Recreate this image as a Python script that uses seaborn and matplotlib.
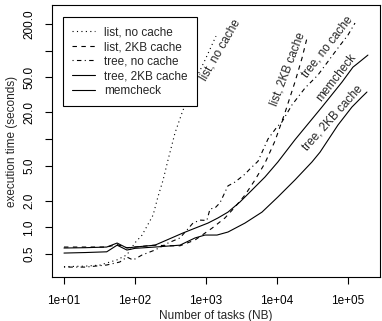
import matplotlib
matplotlib.use("Agg")
import matplotlib.pyplot as plt
from matplotlib.ticker import NullLocator
import pandas as pd
import seaborn as sns

series_names = ["list, no cache", "list, 2KB cache", "tree, no cache",
                "tree, 2KB cache", "memcheck"]

list_nocache_n = [10, 20, 32, 56, 77, 100, 126, 180, 210, 248, 292, 366, 459, 635, 968, 1384]
list_nocache_t = [0.36, 0.365, 0.375, 0.43, 0.49, 0.67, 0.82, 1.38, 2.2, 3.4, 5.8, 11.7, 19.7, 38.7, 78, 146]

list_2kb_n = [10, 20, 40, 56, 77, 100, 191, 300, 430, 700, 1216, 1850, 2560, 3540, 4900, 6780,
              9370, 13000, 17900, 22500, 26500]
list_2kb_t = [0.6, 0.6, 0.6, 0.64, 0.59, 0.6, 0.63, 0.62, 0.62, 0.72, 0.98, 1.28, 1.7, 2.32, 3.44, 5.35,
              9.5, 20, 44, 82, 139]

tree_nocache_n = [10, 20, 40, 61, 77, 94, 126, 191, 292, 430, 656, 823, 1030, 1140, 1340, 1575, 2040,
                  2560, 3540, 4170, 5400, 7470, 10000, 11750, 16260, 24800, 37800, 72300, 100000, 125600]
tree_nocache_t = [0.356, 0.356, 0.376, 0.406, 0.462, 0.428, 0.488, 0.555, 0.666, 0.76, 1.12, 1.21, 1.2, 1.62,
                  1.66, 1.9, 2.95, 3.26, 4.0, 4.6, 5.6, 10, 13.7, 15.6, 24.3, 37.7, 53, 107, 150, 205]

tree_2kb_n = [10, 20, 40, 56, 77, 100, 191, 430, 700, 968, 1430, 2040, 3540, 6150, 10300, 17900,
              31100, 40400, 72300, 113700, 157000, 185000]
tree_2kb_t = [0.513, 0.52, 0.53, 0.63, 0.555, 0.58, 0.6, 0.63, 0.76, 0.82, 0.82, 0.887, 1.12, 1.49, 2.21,
              3.44, 5.5, 7.1, 14.4, 23, 29.9, 34]

memcheck_n = [10, 20, 40, 56, 77, 100, 191, 474, 700, 1067, 1476, 2040, 3010, 4450, 6780, 10300,
              17900, 43000, 82300, 117500, 138000, 191000]
memcheck_t = [0.585, 0.59, 0.6, 0.666, 0.585, 0.6, 0.63, 0.865, 0.98, 1.12, 1.28, 1.49, 1.94, 2.65, 3.72,
              5.5, 9.8, 23, 44, 65, 72, 89]

x_ticks = [10, 100, 1000, 10000, 100000]
x_tick_labels = ["1e+01", "1e+02", "1e+03", "1e+04", "1e+05"]
y_ticks = [0.5, 1, 2, 5, 10, 20, 50, 100, 200]
y_tick_labels = ["0.5", "1.0", "2.0", "5.0", "", "20.0", "50.0", "", "200.0"]

# inline label anchor positions (data coords) and angles
label_pos = {
    "list, no cache": (1575, 102, 60),
    "list, 2KB cache": (14300, 62, 69),
    "tree, no cache": (50600, 110, 52),
    "memcheck": (67700, 49, 52),
    "tree, 2KB cache": (61500, 17.3, 48),
}

frames = []
for name, n, t in [("list, no cache", list_nocache_n, list_nocache_t),
                   ("list, 2KB cache", list_2kb_n, list_2kb_t),
                   ("tree, no cache", tree_nocache_n, tree_nocache_t),
                   ("tree, 2KB cache", tree_2kb_n, tree_2kb_t),
                   ("memcheck", memcheck_n, memcheck_t)]:
    frames.append(pd.DataFrame({"n": n, "t": t, "series": name}))
df = pd.concat(frames, ignore_index=True)

sns.set_style("ticks")
plt.rcParams['font.family'] = ['Liberation Sans', 'DejaVu Sans']
FS = 8.5

fig = plt.figure(figsize=(3.82, 3.21), dpi=100)
ax = fig.add_axes([52 / 382, 1 - 277 / 321, 328 / 382, 272 / 321])
ax.set_xscale("log")
ax.set_yscale("log")

dashes = {"list, no cache": (1, 3), "list, 2KB cache": (4, 4), "tree, no cache": (1, 3, 4, 3),
          "tree, 2KB cache": "", "memcheck": ""}
sns.lineplot(data=df, x="n", y="t", hue="series", style="series",
             hue_order=series_names, style_order=series_names,
             palette={s: "black" for s in series_names}, dashes=dashes,
             estimator=None, sort=False, lw=0.8, ax=ax)

ax.set_xlim(6.78, 282600)
ax.set_ylim(0.275, 328)
ax.xaxis.set_minor_locator(NullLocator())
ax.yaxis.set_minor_locator(NullLocator())
ax.set_xticks(x_ticks)
ax.set_xticklabels(x_tick_labels)
ax.set_yticks(y_ticks)
ax.set_yticklabels(y_tick_labels, rotation=90, va="center")
ax.tick_params(direction="out", length=5, width=0.8, labelsize=FS, colors="black")
ax.tick_params(axis="x", pad=8)
ax.tick_params(axis="y", pad=7)
for sp in ax.spines.values():
    sp.set_visible(True)
    sp.set_color("black")
    sp.set_linewidth(0.8)

ax.set_xlabel("Number of tasks (NB)", fontsize=FS, labelpad=2)
ax.set_ylabel("execution time (seconds)", fontsize=FS, labelpad=4)

handles, labels = ax.get_legend_handles_labels()
hl = [(h, l) for h, l in zip(handles, labels) if l in series_names]
leg = ax.legend([h for h, _ in hl], [l for _, l in hl], loc="upper left",
                bbox_to_anchor=(0.0335, 0.956), borderaxespad=0, fontsize=FS,
                frameon=True, fancybox=False, edgecolor="black", framealpha=1,
                handlelength=1.9, handletextpad=0.75, labelspacing=0.22, borderpad=0.8)
leg.get_frame().set_linewidth(0.8)

for name, (x, y, ang) in label_pos.items():
    ax.text(x, y, name, rotation=ang, ha="center", va="center",
            rotation_mode="anchor", fontsize=FS)

fig.savefig("out.png", dpi=100)
